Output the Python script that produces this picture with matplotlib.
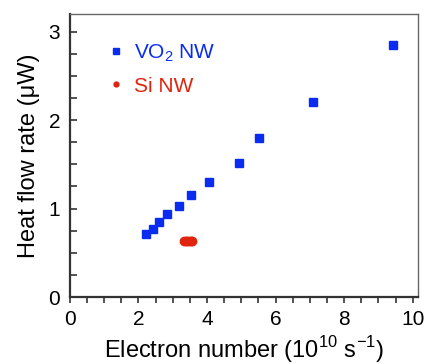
import matplotlib
matplotlib.use("Agg")
import matplotlib.pyplot as plt
from matplotlib.lines import Line2D
from matplotlib.ticker import MultipleLocator

plt.rcParams["font.family"] = ["Liberation Sans", "DejaVu Sans"]
plt.rcParams["mathtext.fontset"] = "custom"
plt.rcParams["mathtext.rm"] = "Liberation Sans"

# ── Data ──────────────────────────────────────────────────────────────────────
vo2_x = [2.22, 2.41, 2.60, 2.82, 3.18, 3.54, 4.05, 4.93, 5.51, 7.08, 9.42]
vo2_y = [0.715, 0.772, 0.847, 0.934, 1.025, 1.149, 1.30, 1.51, 1.80, 2.20, 2.85]
si_x = [3.33, 3.38, 3.43, 3.48, 3.53, 3.57]
si_y = [0.63, 0.63, 0.63, 0.63, 0.63, 0.63]

BLUE = "#0a2cf0"
RED = "#e0240e"
AXC = "#333333"

fig = plt.figure(figsize=(4.26, 3.64), dpi=100)
ax = fig.add_axes([0.164, 0.184, 0.817, 0.778])

ax.plot(vo2_x, vo2_y, "s", color=BLUE, ms=5.5, mec=BLUE)
ax.plot(si_x, si_y, "o", color=RED, ms=6, mec=RED)

ax.set_xlim(0, 10.15)
ax.set_ylim(0, 3.2)
ax.xaxis.set_major_locator(MultipleLocator(2))
ax.xaxis.set_minor_locator(MultipleLocator(0.5))
ax.yaxis.set_major_locator(MultipleLocator(1))
ax.yaxis.set_minor_locator(MultipleLocator(0.25))

ax.tick_params(axis="x", which="both", direction="out", length=4, width=1.2,
               colors=AXC, labelsize=15, labelcolor="black", pad=5)
ax.tick_params(axis="y", which="both", direction="in", length=5, width=1.2,
               colors=AXC, labelsize=15, labelcolor="black", pad=7)

for side in ("left", "bottom"):
    ax.spines[side].set_color(AXC)
    ax.spines[side].set_linewidth(1.6)
for side in ("top", "right"):
    ax.spines[side].set_color("#666666")
    ax.spines[side].set_linewidth(1.0)

ax.set_xlabel("Electron number (10$^{10}$ s$^{-1}$)", fontsize=17, labelpad=4)
ax.set_ylabel("Heat flow rate (\u03bcW)", fontsize=17, labelpad=6)

handles = [
    Line2D([], [], ls="", marker="s", ms=4.5, color=BLUE),
    Line2D([], [], ls="", marker="o", ms=3.5, color=RED),
]
leg = ax.legend(handles, ["VO$_2$ NW", "Si NW"], loc="upper left",
                bbox_to_anchor=(0.065, 0.965), frameon=False, fontsize=15,
                handlelength=0.5, handletextpad=0.6, labelspacing=0.6)
for txt, c in zip(leg.get_texts(), (BLUE, RED)):
    txt.set_color(c)

fig.savefig("out.png", dpi=100)
